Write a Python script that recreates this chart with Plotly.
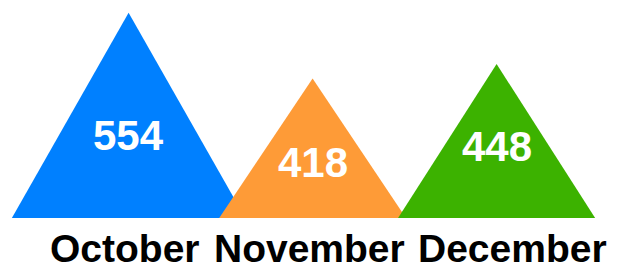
import plotly.graph_objects as go

categories = ["October", "November", "December"]
values = [554, 418, 448]
colors = ["#0080ff", "#fe9b37", "#3cb200"]

BASE = 129          # baseline value of the triangles
LABEL_FRAC = 0.4    # value-label height as fraction of triangle height
value_label_yshift = [0, 0, 10]
cat_label_xshift = [-4, -3, 16]

fig = go.Figure()
for i, (cat, v, c) in enumerate(zip(categories, values, colors)):
    hw = 0.000932 * v + 0.118
    fig.add_trace(go.Scatter(
        x=[i - hw, i, i + hw, i - hw],
        y=[BASE, v, BASE, BASE],
        mode="lines", fill="toself", fillcolor=c,
        line=dict(width=0, color=c), hoverinfo="skip", showlegend=False,
    ))
    fig.add_annotation(
        x=i, y=BASE + LABEL_FRAC * (v - BASE), text=f"<b>{v}</b>",
        showarrow=False, yshift=value_label_yshift[i],
        font=dict(family="Liberation Sans, Arial, sans-serif", size=42, color="white"),
    )
    fig.add_annotation(
        x=i, y=0, yref="paper", yanchor="top", yshift=-7, xshift=cat_label_xshift[i],
        text=f"<b>{cat}</b>", showarrow=False,
        font=dict(family="Liberation Sans, Arial, sans-serif", size=39, color="black"),
    )

# page body has a default 8px margin, so the figure is sized to fit the window
fig.update_layout(
    width=609, height=270,
    margin=dict(l=1, r=10, t=0, b=60),
    plot_bgcolor="white", paper_bgcolor="white",
    xaxis=dict(range=[-0.65, 2.6], visible=False, fixedrange=True),
    yaxis=dict(range=[BASE, 563.8], visible=False, fixedrange=True),
)
fig.write_html("out.html")
